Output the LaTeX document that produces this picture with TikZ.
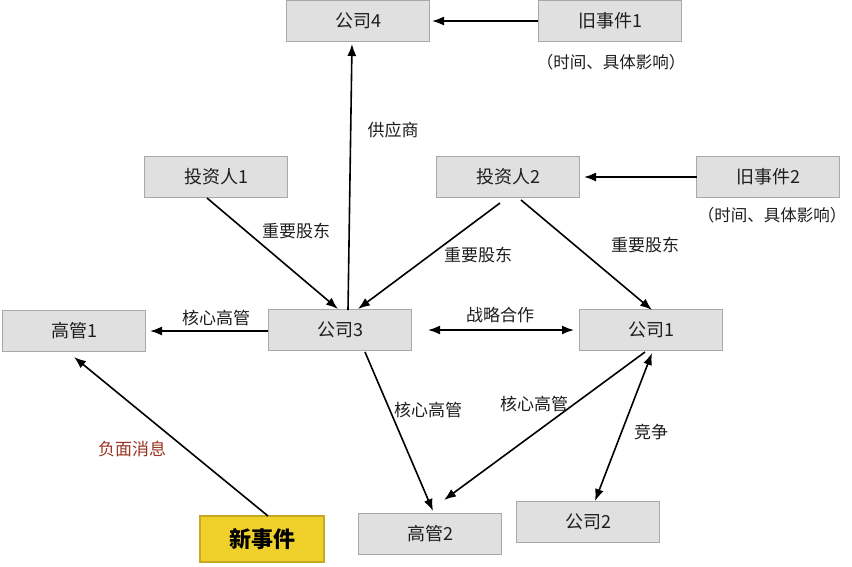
\documentclass[tikz,border=0pt]{standalone}
\usepackage{fontspec}
\setmainfont{Noto Sans CJK SC}
\usetikzlibrary{arrows.meta}
\definecolor{boxfill}{HTML}{E0E0E0}
\definecolor{boxline}{HTML}{A8A8A8}
\definecolor{txt}{HTML}{1E1E1E}
\definecolor{neg}{HTML}{9B3424}
\definecolor{newfill}{HTML}{F0D02A}
\definecolor{newline}{HTML}{C8A820}
\begin{document}
\begin{tikzpicture}[x=1pt,y=-1pt,
  box/.style={draw=boxline,fill=boxfill,line width=1.2pt,minimum width=143pt,minimum height=41pt,inner sep=0pt,font=\fontsize{18}{21}\selectfont,text=txt},
  newbox/.style={box,fill=newfill,draw=newline,minimum width=124pt,minimum height=46pt,font=\fontsize{22}{25}\selectfont\bfseries,text=black},
  note/.style={font=\fontsize{16.5}{19}\selectfont,text=txt},
  lab/.style={font=\fontsize{17}{20}\selectfont,text=txt,inner sep=1pt},
  arr/.style={line width=1.6pt,-{Latex[length=12pt,width=9pt]}},
  darr/.style={line width=1.6pt,{Latex[length=12pt,width=9pt]}-{Latex[length=12pt,width=9pt]}}]
\useasboundingbox (0,0) rectangle (852,566);
\fill[white] (0,0) rectangle (852,566);
% nodes
\node[box] (c4) at (358,21) {公司4};
\node[box] (e1) at (610,21) {旧事件1};
\node[note] (n1) at (611,62) {（时间、具体影响）};
\node[box] (i1) at (216,177) {投资人1};
\node[box] (i2) at (508,177) {投资人2};
\node[box] (e2) at (768,177) {旧事件2};
\node[note] (n2) at (772,215) {（时间、具体影响）};
\node[box] (g1) at (74,331) {高管1};
\node[box] (c3) at (340,330) {公司3};
\node[box] (c1) at (651,330) {公司1};
\node[newbox] (ne) at (262,539) {新事件};
\node[box] (g2) at (430,534) {高管2};
\node[box] (c2) at (588,522) {公司2};
% coordinates
\coordinate (a1s) at (538,21); \coordinate (a1e) at (432,21);
\coordinate (a2s) at (348,310); \coordinate (a2e) at (352,44);
\coordinate (a3s) at (697,177); \coordinate (a3e) at (584,177);
\coordinate (a4s) at (207,198); \coordinate (a4e) at (338,309);
\coordinate (a5s) at (500,203); \coordinate (a5e) at (358,309);
\coordinate (a6s) at (521,200); \coordinate (a6e) at (652,310);
\coordinate (a7s) at (268,331); \coordinate (a7e) at (150,331);
\coordinate (a8s) at (428,330); \coordinate (a8e) at (574,330);
\coordinate (a9s) at (365,352); \coordinate (a9e) at (433,511);
\coordinate (a10s) at (645,352); \coordinate (a10e) at (444,500);
\coordinate (a11s) at (652,353); \coordinate (a11e) at (595,501);
\coordinate (a12s) at (268,516); \coordinate (a12e) at (74,357);
% connectors
\draw[arr] (a1s) -- (a1e);
\draw[arr] (a2s) -- (a2e);
\draw[arr] (a3s) -- (a3e);
\draw[arr] (a4s) -- (a4e);
\draw[arr] (a5s) -- (a5e);
\draw[arr] (a6s) -- (a6e);
\draw[arr] (a7s) -- (a7e);
\draw[darr] (a8s) -- (a8e);
\draw[arr] (a9s) -- (a9e);
\draw[arr] (a10s) -- (a10e);
\draw[darr] (a11s) -- (a11e);
\draw[arr] (a12s) -- (a12e);
% labels
\node[lab] (l1) at (393,130) {供应商};
\node[lab] (l2) at (296,231) {重要股东};
\node[lab] (l3) at (478,255) {重要股东};
\node[lab] (l4) at (645,245) {重要股东};
\node[lab] (l5) at (216,318) {核心高管};
\node[lab] (l6) at (500,315) {战略合作};
\node[lab] (l7) at (428,410) {核心高管};
\node[lab] (l8) at (534,404) {核心高管};
\node[lab] (l9) at (651,432) {竞争};
\node[lab,text=neg] (l10) at (132,449) {负面消息};
\end{tikzpicture}
\end{document}
